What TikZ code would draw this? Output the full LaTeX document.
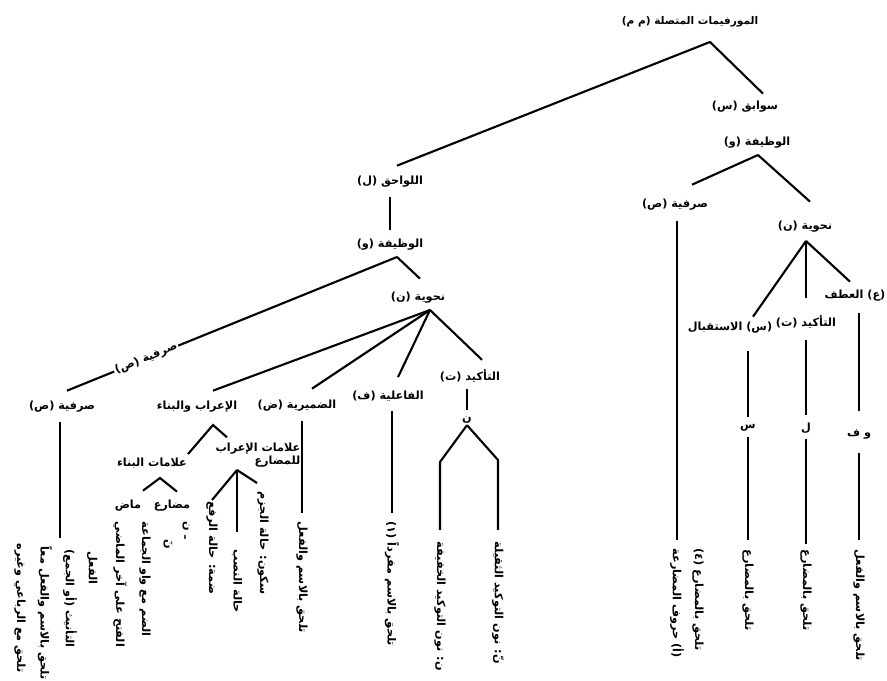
\documentclass[tikz,border=0pt]{standalone}
\usepackage{fontspec}
\newfontfamily\arabicfont[Script=Arabic]{DejaVu Sans}
\TeXXeTstate=1
\usetikzlibrary{calc}
\newcommand{\ar}[1]{\beginR #1\endR}

\begin{document}
\begin{tikzpicture}[x=0.025cm,y=-0.025cm,
		lbl/.style={font=\arabicfont\bfseries\fontsize{8}{9}\selectfont, inner sep=1pt},
		leaf/.style={lbl, rotate=-90, anchor=west},
		link/.style={line width=1.5pt}]
	\useasboundingbox (0,0) rectangle (887,681);

	% top of the tree
	\node[lbl, font=\arabicfont\bfseries\fontsize{7.5}{9}\selectfont] (root) at (690,22) {\ar{المورفيمات المتصلة (م م)}};
	\node[lbl] (sawabiq) at (745,107) {\ar{سوابق (س)}};
	\node[lbl] (lawahiq) at (390,182) {\ar{اللواحق (ل)}};
	\coordinate (rootA) at (710,42);
	\draw[link] (rootA) -- ($(sawabiq.north)+(18,-6)$);
	\draw[link] (rootA) -- ($(lawahiq.north)+(7,-9)$);

	% prefixes
	\node[lbl] (wazS) at (757,143) {\ar{الوظيفة (و)}};
	\node[lbl] (sarfS) at (675,205) {\ar{صرفية (ص)}};
	\node[lbl] (nahwS) at (805,227) {\ar{نحوية (ن)}};
	\node[lbl] (istq) at (730,328) {\ar{(س) الاستقبال}};
	\node[lbl] (takS) at (806,322) {\ar{التأكيد (ت)}};
	\node[lbl] (atf) at (855,296) {\ar{(ع) العطف}};
	\node[lbl] (sinL) at (748,428) {\ar{س}};
	\node[lbl] (lamL) at (806,428) {\ar{ل}};
	\node[lbl] (wfL) at (859,434) {\ar{و ف}};
	\coordinate (wazSA) at (758,155);
	\coordinate (nahwSA) at (806,241);
	\draw[link] (wazSA) -- ($(sarfS.north)+(17,-13)$);
	\draw[link] (wazSA) -- ($(nahwS.north)+(5,-18)$);
	\draw[link] (nahwSA) -- ($(istq.north)+(23,-4)$);
	\draw[link] (nahwSA) -- ($(takS.north)+(0,-16)$);
	\draw[link] (nahwSA) -- ($(atf.north)+(-5,-7)$);

	\node[leaf] (sarfS1) at (677,547) {\ar{(أ) حروف المضارعة}};
	\node[leaf] (sarfS2) at (698,547) {\ar{تلحق بالمضارع (٤)}};
	\node[leaf] (istqLeaf) at (748,548) {\ar{تلحق بالمضارع}};
	\node[leaf] (takLeaf) at (806,548) {\ar{تلحق بالمضارع}};
	\node[leaf] (atfLeaf) at (859,548) {\ar{تلحق بالاسم والفعل}};
	\draw[link, shorten <=0.22cm, shorten >=0.18cm] (sarfS1.west |- sarfS.south) -- (sarfS1.west);
	\draw[link, shorten <=0.4cm, shorten >=0.15cm] (sinL |- istq.south) -- (sinL);
	\draw[link, shorten <=0.1cm, shorten >=0.2cm] (sinL) -- (istqLeaf.west);
	\draw[link, shorten <=0.25cm, shorten >=0.15cm] (lamL |- takS.south) -- (lamL);
	\draw[link, shorten <=0.1cm, shorten >=0.1cm] (lamL) -- (takLeaf.west);
	\draw[link, shorten <=0.25cm, shorten >=0.4cm] (wfL |- atf.south) -- (wfL);
	\draw[link, shorten <=0.3cm, shorten >=0.2cm] (wfL) -- (atfLeaf.west);

	% suffixes
	\node[lbl] (wazL) at (390,245) {\ar{الوظيفة (و)}};
	\node[lbl] (nahwL) at (418,298) {\ar{نحوية (ن)}};
	\node[lbl] (sarfL) at (62,407) {\ar{صرفية (ص)}};
	\node[lbl] (irab) at (197,407) {\ar{الإعراب والبناء}};
	\node[lbl] (damir) at (297,406) {\ar{الضميرية (ض)}};
	\node[lbl] (fail) at (388,396) {\ar{الفاعلية (ف)}};
	\node[lbl] (takL) at (470,376) {\ar{التأكيد (ت)}};
	\node[lbl] (nun) at (467,420) {\ar{ن}};
	\coordinate (wazLA) at (397,257);
	\coordinate (nahwLA) at (430,310);
	\draw[link, shorten <=0.2cm, shorten >=0.2cm] (lawahiq) -- (wazL);
	\draw[link] (wazLA) -- node[lbl, sloped, fill=white, pos=0.76] (sarfTag) {\ar{صرفية (ص)}} ($(sarfL.north)+(5,-9)$);
	\draw[link] (wazLA) -- ($(nahwL.north)+(2,-12)$);
	\draw[link] (nahwLA) -- ($(irab.north)+(16,-9)$);
	\draw[link] (nahwLA) -- ($(damir.north)+(15,-10)$);
	\draw[link] (nahwLA) -- ($(fail.north)+(10,-12)$);
	\draw[link] (nahwLA) -- ($(takL.north)+(12,-8)$);

	% marks of inflection and building
	\node[lbl] (binaa) at (152,463) {\ar{علامات البناء}};
	\node[lbl, align=right] (irabM) at (258,455) {\ar{علامات الإعراب}\\ \ar{للمضارع}};
	\node[lbl] (madi) at (128,506) {\ar{ماض}};
	\node[lbl] (mudar) at (172,506) {\ar{مضارع}};
	\coordinate (irabA) at (213,425);
	\coordinate (binaaA) at (160,478);
	\coordinate (irabMA) at (237,470);
	\draw[link] ($(binaa.north)+(36,-2)$) -- (irabA) -- ($(irabM.north)+(-31,-4)$);
	\draw[link] ($(madi.north)+(15,-8)$) -- (binaaA) -- ($(mudar.north)+(5,-7)$);

	% leaves of the suffixes
	\node[leaf] (sarfL1) at (20,542) {\ar{تلحق مع الرباعي وغيره}};
	\node[leaf] (sarfL2) at (45,545) {\ar{تلحق بالاسم والفعل معاً}};
	\node[leaf] (sarfL3) at (70,548) {\ar{التأنيث (أو الجمع)}};
	\node[leaf] (sarfL4) at (92,550) {\ar{الفعل}};
	\node[leaf] (madi1) at (120,520) {\ar{الفتح على آخر الماضي}};
	\node[leaf] (madi2) at (145,520) {\ar{الضم مع واو الجماعة}};
	\node[leaf] (mud1) at (168,538) {\ar{نَ}};
	\node[leaf] (mud2) at (186,520) {\ar{ـ ن}};
	\node[leaf] (rf) at (212,500) {\ar{ضمة: حالة الرفع}};
	\node[leaf] (nsb) at (237,548) {\ar{حالة النصب}};
	\node[leaf] (jzm) at (263,490) {\ar{سكون: حالة الجزم}};
	\node[leaf] (damirLeaf) at (302,520) {\ar{تلحق بالاسم والفعل}};
	\node[leaf] (failLeaf) at (392,520) {\ar{تلحق بالاسم مفرداً (١)}};
	\node[leaf] (nunL) at (440,540) {\ar{ن: نون التوكيد الخفيفة}};
	\node[leaf] (nunR) at (498,540) {\ar{نّ: نون التوكيد الثقيلة}};
	\coordinate (sarfLend) at (60,538);
	\draw[link, shorten <=0.2cm] (sarfLend |- sarfL.south) -- (sarfLend);
	\draw[link] (irabMA) -- (rf.west);
	\draw[link, shorten >=0.4cm] (irabMA) -- (nsb.west);
	\draw[link] (irabMA) -- ($(jzm.west)+(-6,-7)$);
	\draw[link, shorten <=0.2cm, shorten >=0.18cm] (damirLeaf.west |- damir.south) -- (damirLeaf.west);
	\draw[link, shorten <=0.2cm, shorten >=0.18cm] (failLeaf.west |- fail.south) -- (failLeaf.west);
	\draw[link, shorten <=0.12cm, shorten >=0.12cm] (nun |- takL.south) -- (nun);
	\draw[link, shorten >=0.25cm] (nun.south) -- ($(nunL.west)+(0,-78)$) -- (nunL.west);
	\draw[link, shorten >=0.25cm] (nun.south) -- ($(nunR.west)+(0,-80)$) -- (nunR.west);
\end{tikzpicture}
\end{document}
